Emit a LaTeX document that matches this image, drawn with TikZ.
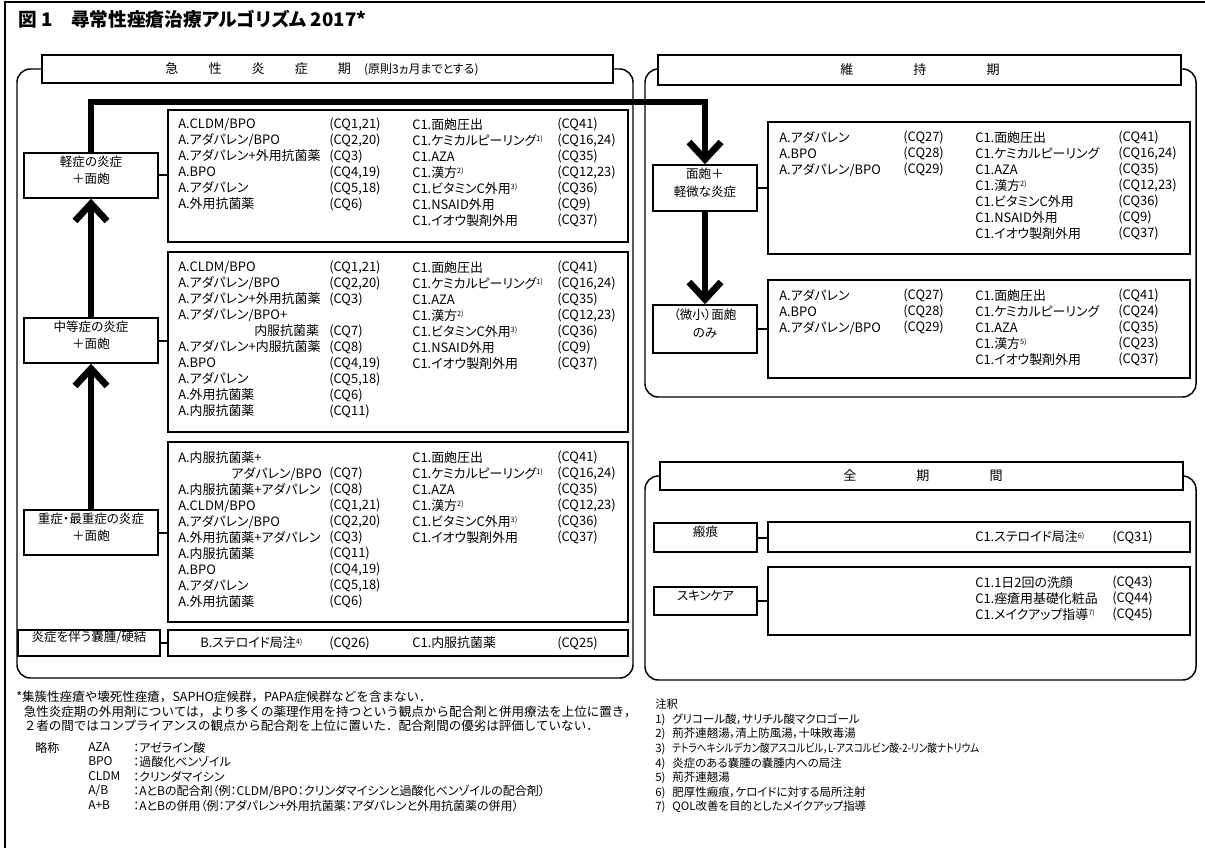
\documentclass[tikz,border=0pt]{standalone}
\usepackage{fontspec}
\setmainfont{Noto Sans CJK JP}[RawFeature=+palt]
\newfontfamily\jfull{Noto Sans CJK JP}
\usetikzlibrary{fit,arrows.meta}
\newcommand\nt[1]{\raisebox{0.55ex}{\fontsize{5.5pt}{6pt}\selectfont #1}}
\newcommand\blankrow{\phantom{(CQ7)}}
\begin{document}
\begin{tikzpicture}[x=0.75pt,y=-0.75pt,
  panelframe/.style={draw,line width=1.1pt,rounded corners=10pt},
  hdrbox/.style={draw,fill=white,line width=1.1pt,inner sep=0pt},
  htext/.style={inner sep=0pt,font=\fontsize{9.8pt}{12pt}\selectfont},
  stagebox/.style={draw,fill=white,line width=1.1pt,inner sep=0pt,align=center,font=\fontsize{9.4pt}{13pt}\selectfont},
  listbox/.style={draw,line width=1.5pt,inner sep=0pt},
  coltext/.style={anchor=north west,inner sep=0pt,align=left,font=\fontsize{9.7pt}{12pt}\selectfont},
  rowtext/.style={anchor=west,inner sep=0pt,font=\fontsize{9.7pt}{12pt}\selectfont},
  notetext/.style={anchor=north west,inner sep=0pt,align=left,font=\fontsize{9pt}{10.9pt}\selectfont},
  fullnote/.style={anchor=north west,inner sep=0pt,align=left,font=\jfull\fontsize{9.4pt}{10.9pt}\selectfont},
  rnotetext/.style={anchor=north west,inner sep=0pt,align=left,font=\fontsize{8.6pt}{10.9pt}\selectfont},
  flow/.style={line width=5pt,line join=miter,-{Straight Barb[length=13pt,width=24pt]}},
  conn/.style={line width=1.5pt}]
\useasboundingbox (0,0) rectangle (1205,848);
% outer frame
\draw[line width=1.2pt] (5,848) -- (5,2) -- (1205,2);
% title
\node[anchor=west,inner sep=0pt,font=\fontsize{14pt}{16pt}\selectfont\bfseries] (title) at (18,19) {図 1\hspace{1em}尋常性痤瘡治療アルゴリズム 2017*};

% ---------- panels ----------
\draw[panelframe] (17,69) rectangle (633,678);
\draw[panelframe] (645,69) rectangle (1196,397);
\draw[panelframe] (645,476) rectangle (1196,680);
\node[hdrbox,fit={(42,55) (613,83)}] (h1) {};
\node[htext] (h1t) at (322,69) {急\hspace{2.3em}性\hspace{2.3em}炎\hspace{2.3em}症\hspace{2.3em}期\hspace{1em}{\fontsize{9pt}{10pt}\selectfont (原則3ヵ月までとする)}};
\node[hdrbox,fit={(658,55) (1181,85)}] (h2) {};
\node[htext] (h2t) at (920,70) {維\hspace{4.6em}持\hspace{4.6em}期};
\node[hdrbox,fit={(660,462) (1183,490)}] (h3) {};
\node[htext] (h3t) at (923,476) {全\hspace{4.6em}期\hspace{4.6em}間};

% ---------- stage boxes ----------
\node[stagebox,fit={(24,153) (158,198)}] (s1) {軽症の炎症\\＋面皰};
\node[stagebox,fit={(24,318) (158,363)}] (s2) {中等症の炎症\\＋面皰};
\node[stagebox,fit={(24,510) (158,555)}] (s3) {重症・最重症の炎症\\＋面皰};
\node[stagebox,fit={(18,630) (160,656)}] (s4) {炎症を伴う嚢腫/硬結};
\node[stagebox,fit={(653,165) (757,211)}] (s5) {面皰＋\\軽微な炎症};
\node[stagebox,fit={(653,305) (757,353)}] (s6) {（微小）面皰\\のみ};
\node[stagebox,fit={(654,523) (757,552)}] (s7) {瘢痕};
\node[stagebox,fit={(654,587) (757,615)}] (s8) {スキンケア};

% ---------- list boxes ----------
\node[listbox,fit={(168,110) (628,242)}] (L1) {};
\node[listbox,fit={(168,252) (628,432)}] (L2) {};
\node[listbox,fit={(168,442) (628,622)}] (L3) {};
\node[listbox,fit={(168,630) (628,656)}] (L4) {};
\node[listbox,fit={(768,122) (1190,254)}] (R1) {};
\node[listbox,fit={(768,280) (1190,378)}] (R2) {};
\node[listbox,fit={(768,522) (1190,552)}] (R3) {};
\node[listbox,fit={(768,567) (1190,635)}] (R4) {};

% L1 texts
\node[coltext] (L1a) at (178,118) {A.CLDM/BPO\\A.アダパレン/BPO\\A.アダパレン+外用抗菌薬\\A.BPO\\A.アダパレン\\A.外用抗菌薬};
\node[coltext] (L1b) at (329,118) {(CQ1,21)\\(CQ2,20)\\(CQ3)\\(CQ4,19)\\(CQ5,18)\\(CQ6)};
\node[coltext] (L1c) at (412,118) {C1.面皰圧出\\C1.ケミカルピーリング\nt{1)}\\C1.AZA\\C1.漢方\nt{2)}\\C1.ビタミンC外用\nt{3)}\\C1.NSAID外用\\C1.イオウ製剤外用};
\node[coltext] (L1d) at (557,118) {(CQ41)\\(CQ16,24)\\(CQ35)\\(CQ12,23)\\(CQ36)\\(CQ9)\\(CQ37)};

% L2 texts
\node[coltext] (L2a) at (178,261) {A.CLDM/BPO\\A.アダパレン/BPO\\A.アダパレン+外用抗菌薬\\A.アダパレン/BPO+\\\hspace*{57pt}内服抗菌薬\\A.アダパレン+内服抗菌薬\\A.BPO\\A.アダパレン\\A.外用抗菌薬\\A.内服抗菌薬};
\node[coltext] (L2b) at (329,261) {(CQ1,21)\\(CQ2,20)\\(CQ3)\\\blankrow\\(CQ7)\\(CQ8)\\(CQ4,19)\\(CQ5,18)\\(CQ6)\\(CQ11)};
\node[coltext] (L2c) at (412,261) {C1.面皰圧出\\C1.ケミカルピーリング\nt{1)}\\C1.AZA\\C1.漢方\nt{2)}\\C1.ビタミンC外用\nt{3)}\\C1.NSAID外用\\C1.イオウ製剤外用};
\node[coltext] (L2d) at (557,261) {(CQ41)\\(CQ16,24)\\(CQ35)\\(CQ12,23)\\(CQ36)\\(CQ9)\\(CQ37)};

% L3 texts
\node[coltext] (L3a) at (178,451) {A.内服抗菌薬+\\\hspace*{40pt}アダパレン/BPO\\A.内服抗菌薬+アダパレン\\A.CLDM/BPO\\A.アダパレン/BPO\\A.外用抗菌薬+アダパレン\\A.内服抗菌薬\\A.BPO\\A.アダパレン\\A.外用抗菌薬};
\node[coltext] (L3b) at (329,451) {\blankrow\\(CQ7)\\(CQ8)\\(CQ1,21)\\(CQ2,20)\\(CQ3)\\(CQ11)\\(CQ4,19)\\(CQ5,18)\\(CQ6)};
\node[coltext] (L3c) at (412,451) {C1.面皰圧出\\C1.ケミカルピーリング\nt{1)}\\C1.AZA\\C1.漢方\nt{2)}\\C1.ビタミンC外用\nt{3)}\\C1.イオウ製剤外用};
\node[coltext] (L3d) at (557,451) {(CQ41)\\(CQ16,24)\\(CQ35)\\(CQ12,23)\\(CQ36)\\(CQ37)};

% L4 texts
\node[rowtext] (L4a) at (200,643) {B.ステロイド局注\nt{4)}};
\node[rowtext] (L4b) at (329,643) {(CQ26)};
\node[rowtext] (L4c) at (412,643) {C1.内服抗菌薬};
\node[rowtext] (L4d) at (557,643) {(CQ25)};

% R1 texts
\node[coltext] (R1a) at (779,131) {A.アダパレン\\A.BPO\\A.アダパレン/BPO};
\node[coltext] (R1b) at (903,131) {(CQ27)\\(CQ28)\\(CQ29)};
\node[coltext] (R1c) at (975,131) {C1.面皰圧出\\C1.ケミカルピーリング\\C1.AZA\\C1.漢方\nt{2)}\\C1.ビタミンC外用\\C1.NSAID外用\\C1.イオウ製剤外用};
\node[coltext] (R1d) at (1118,131) {(CQ41)\\(CQ16,24)\\(CQ35)\\(CQ12,23)\\(CQ36)\\(CQ9)\\(CQ37)};

% R2 texts
\node[coltext] (R2a) at (779,289) {A.アダパレン\\A.BPO\\A.アダパレン/BPO};
\node[coltext] (R2b) at (903,289) {(CQ27)\\(CQ28)\\(CQ29)};
\node[coltext] (R2c) at (975,289) {C1.面皰圧出\\C1.ケミカルピーリング\\C1.AZA\\C1.漢方\nt{5)}\\C1.イオウ製剤外用};
\node[coltext] (R2d) at (1118,289) {(CQ41)\\(CQ24)\\(CQ35)\\(CQ23)\\(CQ37)};

% R3, R4 texts
\node[rowtext] (R3a) at (975,537) {C1.ステロイド局注\nt{6)}};
\node[rowtext] (R3b) at (1112,537) {(CQ31)};
\node[coltext] (R4a) at (975,576) {C1.1日2回の洗顔\\C1.痤瘡用基礎化粧品\\C1.メイクアップ指導\nt{7)}};
\node[coltext] (R4b) at (1112,576) {(CQ43)\\(CQ44)\\(CQ45)};

% ---------- connectors ----------
\draw[conn] (s1.east) -- (s1.east -| L1.west);
\draw[conn] (s2.east) -- (s2.east -| L2.west);
\draw[conn] (s3.east) -- (s3.east -| L3.west);
\draw[conn] (s4.east) -- (s4.east -| L4.west);
\draw[conn] (s5.east) -- (s5.east -| R1.west);
\draw[conn] (s6.east) -- (s6.east -| R2.west);
\draw[conn] (s7.east) -- (s7.east -| R3.west);
\draw[conn] (s8.east) -- (s8.east -| R4.west);

% ---------- thick flow arrows ----------
\coordinate (b1) at (91,102);
\coordinate (b2) at (705,102);
\draw[flow] (s1.north) -- (b1) -- (b2) -- (s5.north);
\draw[flow] (s3.north) -- (s2.south);
\draw[flow] (s2.north) -- (s1.south);
\draw[flow] (s5.south) -- (s6.north);

% ---------- footnotes ----------
\node[fullnote] (fn1) at (16,691) {*集簇性痤瘡や壊死性痤瘡，SAPHO症候群，PAPA症候群などを含まない．\\
\hspace*{0.6em}急性炎症期の外用剤については，より多くの薬理作用を持つという観点から配合剤と併用療法を上位に置き，\\
\hspace*{0.6em}２者の間ではコンプライアンスの観点から配合剤を上位に置いた．配合剤間の優劣は評価していない．};
\node[notetext] (ab0) at (35,742) {略称};
\node[notetext] (ab1) at (88,742) {AZA\\BPO\\CLDM\\A/B\\A+B};
\node[notetext] (ab2) at (133,742) {：アゼライン酸\\：過酸化ベンゾイル\\：クリンダマイシン\\：AとBの配合剤（例：CLDM/BPO：クリンダマイシンと過酸化ベンゾイルの配合剤）\\：AとBの併用（例：アダパレン+外用抗菌薬：アダパレンと外用抗菌薬の併用）};
\node[rnotetext] (fn2) at (655,699) {注釈\\
1)\hspace{0.6em}グリコール酸，サリチル酸マクロゴール\\
2)\hspace{0.6em}荊芥連翹湯，清上防風湯，十味敗毒湯\\
3)\hspace{0.6em}\scalebox{0.84}[1]{テトラヘキシルデカン酸アスコルビル，L-アスコルビン酸-2-リン酸ナトリウム}\\
4)\hspace{0.6em}炎症のある嚢腫の嚢腫内への局注\\
5)\hspace{0.6em}荊芥連翹湯\\
6)\hspace{0.6em}肥厚性瘢痕，ケロイドに対する局所注射\\
7)\hspace{0.6em}QOL改善を目的としたメイクアップ指導};
\end{tikzpicture}
\end{document}
